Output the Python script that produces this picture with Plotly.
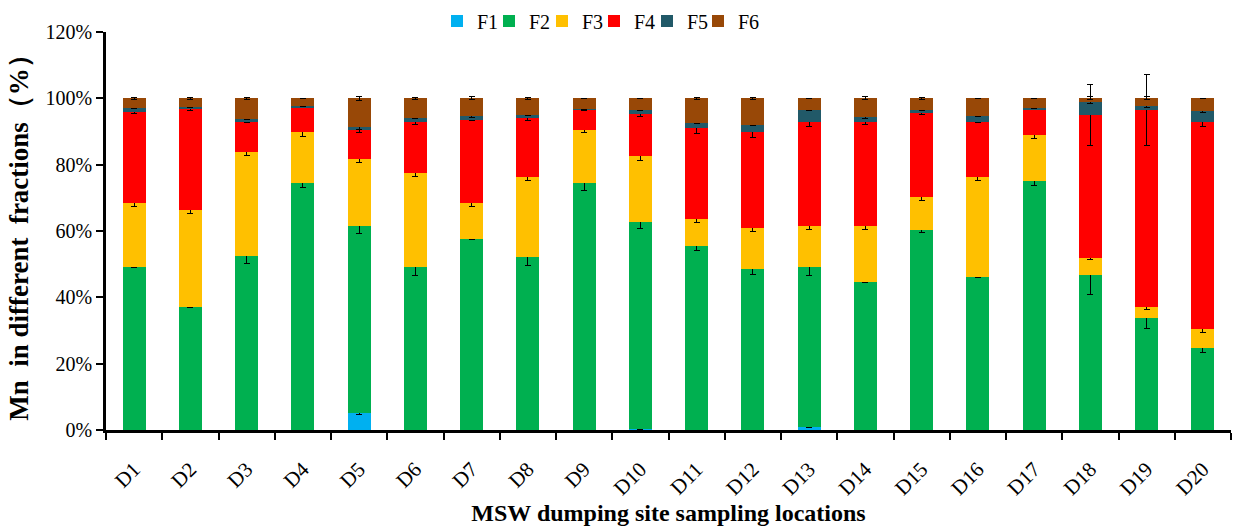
import plotly.graph_objects as go

# Sampling locations
sites = ["D1", "D2", "D3", "D4", "D5", "D6", "D7", "D8", "D9", "D10",
         "D11", "D12", "D13", "D14", "D15", "D16", "D17", "D18", "D19", "D20"]

# Mn share in each fraction (%)
f1 = [0, 0, 0, 0, 5.0, 0, 0, 0, 0, 0.3, 0, 0, 0.8, 0, 0, 0, 0, 0, 0, 0]
f2 = [49.2, 37.0, 52.4, 74.4, 56.5, 49.2, 57.6, 52.2, 74.4, 62.5,
      55.5, 48.6, 48.4, 44.7, 60.3, 46.0, 75.0, 46.8, 33.8, 24.8]
f3 = [19.1, 29.2, 31.3, 15.3, 20.2, 28.3, 10.8, 24.1, 16.2, 19.7,
      8.1, 12.4, 12.3, 16.8, 9.9, 30.3, 13.8, 5.1, 3.4, 5.6]
f4 = [27.6, 30.5, 9.3, 7.6, 8.7, 15.5, 25.2, 17.8, 5.9, 12.8,
      27.5, 29.0, 31.5, 31.3, 25.3, 16.7, 7.9, 43.0, 59.3, 62.6]
f5 = [1.2, 0.7, 0.8, 0.3, 0.9, 1.2, 1.2, 1.0, 0.4, 1.3,
      1.6, 2.1, 3.5, 1.6, 1.0, 1.6, 0.5, 4.0, 1.2, 3.1]
f6 = [2.9, 2.6, 6.2, 2.4, 8.7, 5.8, 5.2, 4.9, 3.1, 3.4,
      7.3, 7.9, 3.5, 5.6, 3.5, 5.4, 2.8, 1.1, 2.3, 3.9]

# Standard deviations (%)
e1 = [None, None, None, None, 0.3, None, None, None, None, 0.1,
      None, None, 0.1, None, None, None, None, None, None, None]
e2 = [0.3, 0.1, 2.2, 1.3, 2.3, 2.7, 0.2, 2.5, 2.05, 2.05,
      1.4, 1.75, 2.5, 0.1, 0.75, 0.1, 1.15, 5.8, 3.2, 1.4]
e3 = [0.95, 0.9, 1.0, 1.15, 1.15, 0.95, 1.1, 1.05, 0.9, 1.1,
      0.95, 1.0, 1.1, 1.1, 1.0, 1.0, 0.95, 0.5, 0.9, 1.1]
e4 = [0.4, 0.5, 0.4, 0.2, 0.6, 0.75, 0.2, 0.85, 0.3, 0.85,
      1.85, 1.95, 1.4, 0.65, 0.4, 0.2, 0.2, 9.2, 10.8, 1.6]
e5 = [0.2, 0.2, 0.2, 0.1, 0.6, 0.3, 0.65, 0.4, 0.2, 0.3,
      0.3, 0.2, 0.2, 0.5, 0.3, 0.2, 0.2, 0.5, 0.5, 0.3]
e6 = [0.2, 0.3, 0.3, 0.1, 0.55, 0.3, 0.5, 0.2, 0.1, 0.1,
      0.2, 0.3, 0.1, 0.5, 0.3, 0.1, 0.1, 0.5, 0.5, 0.1]

names = ["F1", "F2", "F3", "F4", "F5", "F6"]
colors = ["#00B0F0", "#00B050", "#FFC000", "#FF0000", "#215968", "#984807"]
values = [f1, f2, f3, f4, f5, f6]
errors = [e1, e2, e3, e4, e5, e6]

serif = "Times New Roman, Liberation Serif, serif"

# plot-area geometry (px)
PLOT_L, PLOT_R, PLOT_T, PLOT_B = 106, 2, 32, 96
PLOT_W = 1233 - PLOT_L - PLOT_R
PLOT_H = 526 - PLOT_T - PLOT_B

# left edge of each legend entry (px from the page's left edge)
legend_left = [437, 489, 542, 594, 647, 698]

fig = go.Figure()
legend_layouts = {}
for k, (name, color, vals, errs) in enumerate(zip(names, colors, values, errors)):
    lid = "legend" if k == 0 else f"legend{k + 1}"
    fig.add_trace(go.Bar(
        x=sites, y=vals, name=name, legend=lid,
        marker=dict(color=color, line=dict(width=0)),
        width=0.41,
        error_y=dict(type="data", array=errs, visible=True,
                     color="black", thickness=1, width=3),
    ))
    legend_layouts[lid] = dict(
        orientation="h",
        x=(legend_left[k] - PLOT_L) / PLOT_W, xanchor="left",
        y=1 + (PLOT_T - 21) / PLOT_H, yanchor="middle",
        font=dict(size=20), itemwidth=30,
        bgcolor="rgba(0,0,0,0)", borderwidth=0,
    )

fig.update_layout(
    barmode="stack",
    width=1233, height=526,
    margin=dict(l=PLOT_L, r=PLOT_R, t=PLOT_T, b=PLOT_B, pad=0, autoexpand=False),
    plot_bgcolor="white", paper_bgcolor="white",
    font=dict(family=serif, size=20, color="black"),
    showlegend=True,
    xaxis=dict(
        showline=True, linecolor="black", linewidth=2.5,
        ticks="outside", ticklen=7, tickwidth=2, tickcolor="black",
        tickson="boundaries", tickangle=-45, ticklabelstandoff=16,
        tickfont=dict(size=21),
        showgrid=False, zeroline=False,
        title=dict(text="<b>MSW dumping site sampling locations</b>",
                   font=dict(size=24), standoff=8),
    ),
    yaxis=dict(
        range=[0, 120], dtick=20, ticksuffix="%",
        showline=True, linecolor="black", linewidth=2.5,
        ticks="outside", ticklen=7, tickwidth=2, tickcolor="black",
        tickfont=dict(size=20),
        showgrid=False, zeroline=False,
        title=dict(text="<b>Mn\u00a0\u00a0in different\u00a0\u00a0fractions（%）</b>",
                   font=dict(size=27), standoff=10),
    ),
    **legend_layouts,
)

fig.write_html("out.html")
